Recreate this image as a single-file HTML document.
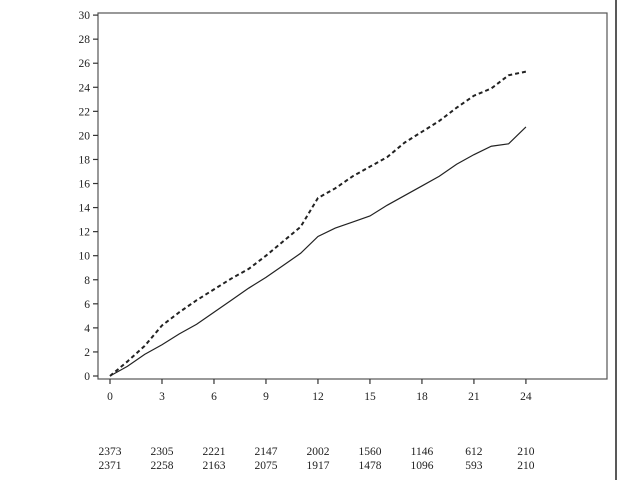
<!DOCTYPE html>
<html><head><meta charset="utf-8"><style>
body{margin:0;background:#fff;}
svg{display:block;font-family:"Liberation Serif",serif;}
</style></head><body>
<svg width="619" height="480" viewBox="0 0 619 480">
<rect x="0" y="0" width="619" height="480" fill="#fff"/>
<rect x="98" y="13" width="509" height="366" fill="none" stroke="#555" stroke-width="1.2"/>
<line x1="616" y1="0" x2="616" y2="480" stroke="#222" stroke-width="1.5"/>
<g id="axes"></g>
<g id="series"></g>
<g id="risk"></g>
</svg>
<script>
const months=[0,1,2,3,4,5,6,7,8,9,10,11,12,13,14,15,16,17,18,19,20,21,22,23,24];
const dashedValues=[0,1.2,2.5,4.2,5.3,6.3,7.2,8.1,8.9,10,11.2,12.4,14.8,15.6,16.6,17.4,18.2,19.4,20.3,21.2,22.3,23.3,23.9,25,25.3];
const solidValues=[0,0.8,1.8,2.6,3.5,4.3,5.3,6.3,7.3,8.2,9.2,10.2,11.6,12.3,12.8,13.3,14.2,15,15.8,16.6,17.6,18.4,19.1,19.3,20.7];
const xTicks=[0,3,6,9,12,15,18,21,24];
const yTicks=[0,2,4,6,8,10,12,14,16,18,20,22,24,26,28,30];
const riskRow1=[2373,2305,2221,2147,2002,1560,1146,612,210];
const riskRow2=[2371,2258,2163,2075,1917,1478,1096,593,210];
const NS="http://www.w3.org/2000/svg";
const X=v=>110+v*17.33;
const Y=v=>376-v*12.03;
function mk(tag,attrs,parent,text){const e=document.createElementNS(NS,tag);for(const k in attrs)e.setAttribute(k,attrs[k]);if(text!==undefined)e.textContent=text;parent.appendChild(e);return e;}
const axes=document.getElementById('axes');
yTicks.forEach(t=>{
  const l=mk('line',{x1:93,x2:98,y1:Y(t),y2:Y(t),stroke:'#333','stroke-width':1.2},axes);
  
  
  const tx=mk('text',{x:90,y:Y(t)+4,'text-anchor':'end','font-size':11.5,fill:'#222'},axes,String(t));
  
  
});
xTicks.forEach(t=>{
  const l=mk('line',{x1:X(t),x2:X(t),y1:379,y2:384,stroke:'#333','stroke-width':1.2},axes);
  
  
  const tx=mk('text',{x:X(t),y:400,'text-anchor':'middle','font-size':11.5,fill:'#222'},axes,String(t));
  
  
});
function smoothPath(vals){let d='M'+X(months[0])+','+Y(vals[0]);for(let i=1;i<months.length;i++){d+=' L'+X(months[i])+','+Y(vals[i]);}return d;}
const ser=document.getElementById('series');
const p1=mk('path',{d:smoothPath(dashedValues),fill:'none',stroke:'#222','stroke-width':2,'stroke-dasharray':'4,3'},ser);


const p2=mk('path',{d:smoothPath(solidValues),fill:'none',stroke:'#222','stroke-width':1.2},ser);


const risk=document.getElementById('risk');
xTicks.forEach((t,i)=>{
  const a=mk('text',{x:X(t),y:455,'text-anchor':'middle','font-size':11.5,fill:'#222'},risk,String(riskRow1[i]));
  
  
  const b=mk('text',{x:X(t),y:469,'text-anchor':'middle','font-size':11.5,fill:'#222'},risk,String(riskRow2[i]));
  
  
});
</script>
</body></html>
